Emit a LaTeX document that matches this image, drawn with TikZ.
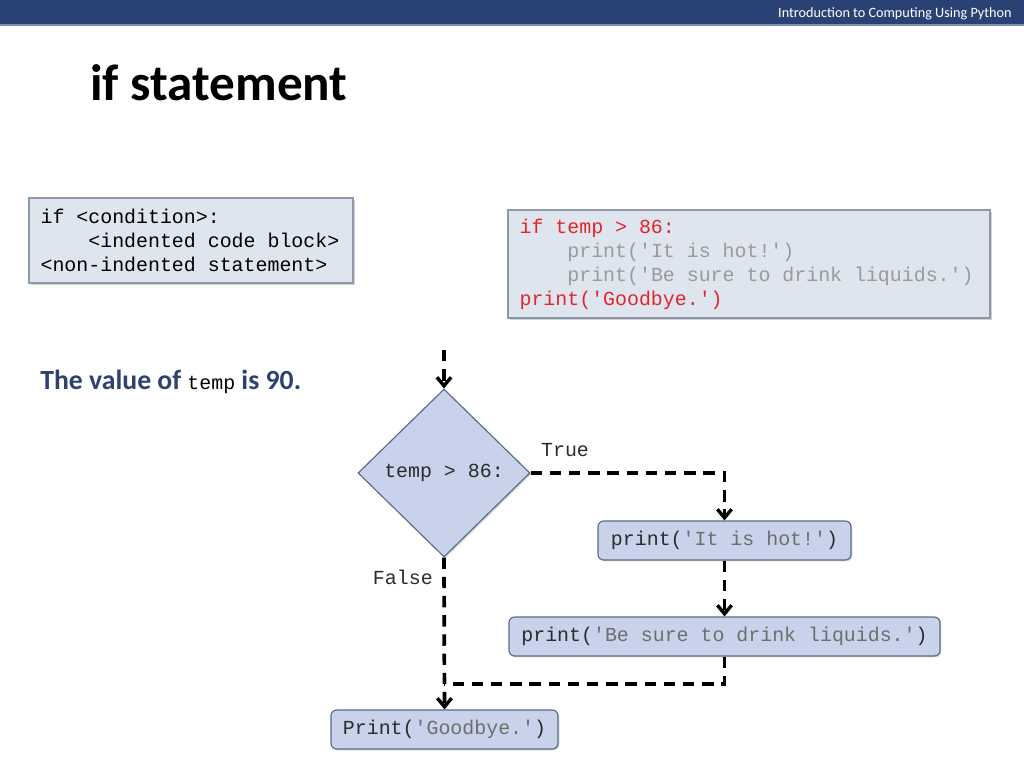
\documentclass[tikz,border=0pt]{standalone}
\usepackage{fontspec}
\setmainfont{Carlito}
\newfontfamily\codefont{Liberation Mono}[WordSpace={1,0,0}]
\usetikzlibrary{shapes.geometric,arrows.meta,shadows}
\def\pxu{0.703125pt}
\newcommand\codesp{\spaceskip=0.6001em\relax}
\definecolor{barblue}{HTML}{2A4273}
\definecolor{boxfill}{HTML}{DFE5EF}
\definecolor{boxline}{HTML}{8D99AB}
\definecolor{flowfill}{HTML}{C8D2EA}
\definecolor{flowline}{HTML}{5B6A88}
\definecolor{codered}{HTML}{E0262A}
\definecolor{codegray}{HTML}{9A9A9A}
\definecolor{strgray}{HTML}{6E6E6E}
\definecolor{darktext}{HTML}{2B2B2B}
\definecolor{valblue}{HTML}{2E4272}
\tikzset{
  codebox/.style={draw=boxline, fill=boxfill, line width=1pt, inner sep=0pt,
    drop shadow={shadow xshift=1.5pt, shadow yshift=-1.5pt, opacity=0.35}},
  codetext/.style={align=left, inner sep=0pt,
    font={\codefont\fontsize{14}{16.875}\selectfont\codesp}},
  flownode/.style={draw=flowline, fill=flowfill, line width=0.8pt, rounded corners=4pt,
    inner sep=0pt, minimum height={39*\pxu}, text=darktext,
    font=\codefont\fontsize{14}{16.875}\selectfont,
    drop shadow={shadow xshift=1pt, shadow yshift=-1pt, opacity=0.3}},
  decision/.style={diamond, draw=flowline, fill=flowfill, line width=0.8pt, inner sep=0pt,
    minimum width={172*\pxu}, minimum height={168*\pxu}, text=darktext,
    font=\codefont\fontsize{14}{16.875}\selectfont,
    drop shadow={shadow xshift=1pt, shadow yshift=-1pt, opacity=0.3}},
  flow/.style={line width=2.6pt, dash pattern=on 8pt off 5.5pt,
    -{Straight Barb[length=6pt,width=10pt,line width=2.4pt]}},
  flowplain/.style={line width=2.6pt, dash pattern=on 8pt off 5.5pt},
  lbl/.style={font=\codefont\fontsize{14}{16.875}\selectfont, text=darktext, inner sep=0pt}
}
\begin{document}
\begin{tikzpicture}[x=0.703125pt,y=-0.703125pt]
\useasboundingbox (0,0) rectangle (1024,768);
\fill[white] (0,0) rectangle (1024,768);
% header bar
\fill[barblue] (0,0) rectangle (1024,25);
\draw[color=barblue!60, line width=0.8pt] (0,25) -- (1024,25);
\node[anchor=base east, text=white, inner sep=0pt, font=\fontsize{10}{12}\selectfont] (hdr) at (1012,18) {Introduction to Computing Using Python};
% title
\node[anchor=base west, inner sep=0pt, font=\bfseries\fontsize{36}{44}\selectfont] (title) at (90,101) {if statement};
% syntax box
\node[codebox, minimum width={324*\pxu}, minimum height={85*\pxu}] (syn) at (191,240.5) {};
\node[codetext, anchor=west] (syntxt) at ([xshift={12*\pxu}]syn.west)
  {\codesp if <condition>:\\
  \hphantom{xxxx}<indented code block>\\
  <non-indented statement>};
% example box
\node[codebox, minimum width={482*\pxu}, minimum height={108*\pxu}] (ex) at (749,264) {};
\node[codetext, anchor=west] (extxt) at ([xshift={12*\pxu}]ex.west)
  {\codesp\textcolor{codered}{if temp > 86:}\\
  \textcolor{codegray}{\hphantom{xxxx}print('It is hot!')}\\
  \textcolor{codegray}{\hphantom{xxxx}print('Be sure to drink liquids.')}\\
  \textcolor{codered}{print('Goodbye.')}};
% value text
\node[anchor=base west, inner sep=0pt, text=valblue, font=\bfseries\fontsize{19.5}{24}\selectfont] (val) at (40,389)
  {The value of {\codefont\mdseries\fontsize{14}{16}\selectfont\color{black}temp} is 90.};
% flowchart
\coordinate (s) at (444,350);
\node[decision] (d) at (444,473) {temp > 86:};
\node[flownode, minimum width={253*\pxu}] (h) at (724.5,540.5) {print(\textcolor{strgray}{'It is hot!'})};
\node[flownode, minimum width={431*\pxu}] (l) at (724.5,636.5) {print(\textcolor{strgray}{'Be sure to drink liquids.'})};
\node[flownode, minimum width={227*\pxu}] (b) at (444.5,729.5) {Print(\textcolor{strgray}{'Goodbye.'})};
\coordinate (c1) at (h.north |- d.east);
\coordinate (c3) at (444,684);
\draw[flow] (s) -- (d.north);
\draw[flow] (d.east) -- (c1) -- (h.north);
\draw[flow] (d.south) -- (b.north);
\draw[flow] (h.south) -- (l.north);
\draw[flowplain] (l.south) |- (c3);
\node[lbl] (tl) at (565,450) {True};
\node[lbl, anchor=east] (fl) at (433,577) {False};
\end{tikzpicture}
\end{document}
